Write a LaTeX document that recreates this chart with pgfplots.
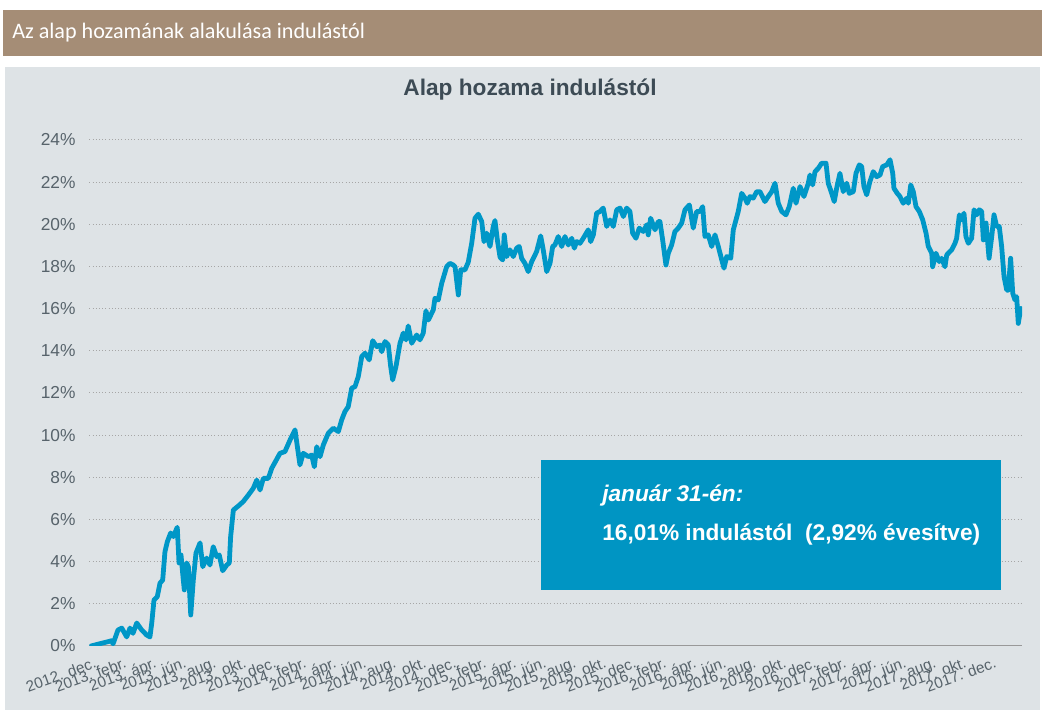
\documentclass[border=0pt]{standalone}
\usepackage{pgfplots}
\pgfplotsset{compat=1.18}
\usetikzlibrary{backgrounds}
\usepackage{fontspec}
\setmainfont{Liberation Sans}
\newfontfamily\hdrfont{Carlito}
\definecolor{hdr}{HTML}{A58D76}
\definecolor{panel}{HTML}{DEE3E6}
\definecolor{ttl}{HTML}{3D4B55}
\definecolor{tickc}{HTML}{57636B}
\definecolor{linec}{HTML}{0097C7}
\definecolor{boxc}{HTML}{0095C3}
\begin{document}
\begin{tikzpicture}
\begin{axis}[
  name=ax,
  scale only axis, width=699.4pt, height=379.5pt,
  xmin=-0.1, xmax=62.07, ymin=0, ymax=24,
  axis line style={draw=none},
  major tick length=0pt,
  ytick={0,2,...,24},
  yticklabel={\pgfmathprintnumber{\tick}\%},
  /pgf/number format/assume math mode=true,
  yticklabel style={font=\fontsize{13}{14}\selectfont, text=tickc, xshift=-7pt},
  ymajorgrids,
  grid style={dotted, line width=0.75pt, color=black!35},
  xtick={0,2,...,60},
  xticklabels={2012. dec.,2013. febr.,2013. ápr.,2013. jún.,2013. aug.,2013. okt.,2013. dec.,2014. febr.,2014. ápr.,2014. jún.,2014. aug.,2014. okt.,2014. dec.,2015. febr.,2015. ápr.,2015. jún.,2015. aug.,2015. okt.,2015. dec.,2016. febr.,2016. ápr.,2016. jún.,2016. aug.,2016. okt.,2016. dec.,2017. febr.,2017. ápr.,2017. jún.,2017. aug.,2017. okt.,2017. dec.},
  xticklabel style={rotate=20, anchor=north east, font=\fontsize{11.5}{13}\selectfont, text=tickc, inner sep=1pt, yshift=-7pt},
]
\draw[black!40, line width=0.9pt] (axis cs:-0.1,0) -- (axis cs:62.07,0);
\fill[boxc] (axis cs:30,2.66) rectangle (axis cs:60.67,8.82);
\node[anchor=west, text=white, inner sep=0pt, font=\bfseries\itshape\fontsize{17}{20}\selectfont] at (axis cs:34.07,7.16) {január 31-én:};
\node[anchor=west, text=white, inner sep=0pt, font=\bfseries\fontsize{17}{20}\selectfont] at (axis cs:34.07,5.27) {16,01\% indulástól\ \ (2,92\% évesítve)};
\addplot[color=linec, line width=3.6pt, line join=round, line cap=round, no marks] coordinates {
(0,0.00) (1.38,0.25) (1.47,0.10) (1.80,0.76) (2.05,0.85) (2.38,0.43) (2.60,0.85) (2.80,0.60)
(3.05,1.09) (3.38,0.76) (3.71,0.52) (3.93,0.43) (4.05,1.09) (4.20,2.18) (4.42,2.34) (4.60,2.98)
(4.78,3.13) (4.93,4.47) (5.09,4.95) (5.31,5.36) (5.49,5.19) (5.75,5.63) (5.87,3.94) (6.00,4.32)
(6.11,3.46) (6.22,2.66) (6.38,3.94) (6.49,3.76) (6.65,1.47) (6.82,3.13) (7.00,4.41) (7.27,4.89)
(7.45,3.76) (7.71,4.17) (7.93,3.84) (8.15,4.71) (8.38,4.24) (8.55,4.32) (8.78,3.57) (9.05,3.84)
(9.22,3.94) (9.31,5.19) (9.49,6.45) (9.82,6.64) (10.15,6.85) (10.49,7.16) (10.82,7.48) (11.05,7.87)
(11.27,7.40) (11.49,7.95) (11.82,7.95) (12.05,8.43) (12.60,9.14) (12.93,9.22) (13.27,9.77) (13.60,10.25)
(13.93,8.59) (14.15,9.14) (14.49,8.98) (14.71,9.06) (14.89,8.50) (15.05,9.45) (15.27,8.98) (15.49,9.54)
(15.82,10.09) (16.15,10.33) (16.49,10.17) (16.71,10.72) (16.93,11.12) (17.15,11.35) (17.38,12.23) (17.60,12.30)
(17.82,12.78) (18.05,13.73) (18.27,13.89) (18.55,13.57) (18.78,14.48) (19.05,14.20) (19.27,14.28) (19.38,13.96)
(19.60,14.44) (19.82,14.28) (19.98,13.25) (20.11,12.62) (20.33,13.25) (20.60,14.36) (20.82,14.84) (21.00,14.52)
(21.15,15.18) (21.38,14.36) (21.71,14.75) (21.93,14.52) (22.15,14.84) (22.33,15.90) (22.49,15.46) (22.82,15.94)
(22.93,16.49) (23.15,16.41) (23.38,17.20) (23.71,17.99) (23.93,18.15) (24.15,18.07) (24.27,17.99) (24.49,16.65)
(24.65,17.84) (24.93,17.84) (25.15,18.20) (25.38,19.10) (25.60,20.29) (25.82,20.48) (26.05,20.13) (26.20,19.18)
(26.38,19.58) (26.60,18.95) (26.82,19.90) (26.93,20.18) (27.09,19.26) (27.27,18.44) (27.45,18.31) (27.55,19.50)
(27.71,18.47) (27.93,18.79) (28.15,18.47) (28.38,18.87) (28.55,18.95) (28.71,18.39) (28.93,18.15) (29.15,17.76)
(29.38,18.23) (29.71,18.71) (29.98,19.45) (30.15,18.79) (30.38,17.76) (30.60,18.15) (30.78,18.95) (30.93,19.02)
(31.15,19.42) (31.38,18.95) (31.60,19.42) (31.82,19.02) (32.05,19.34) (32.22,18.87) (32.38,19.18) (32.60,19.10)
(32.82,19.34) (33.15,19.74) (33.31,19.18) (33.49,19.50) (33.71,20.53) (33.93,20.61) (34.15,20.77) (34.38,19.90)
(34.60,20.21) (34.82,19.90) (35.05,20.69) (35.27,20.77) (35.49,20.37) (35.71,20.77) (35.93,20.61) (36.11,19.58)
(36.33,19.34) (36.55,19.82) (36.82,19.66) (37.05,19.98) (37.15,19.50) (37.31,20.29) (37.60,19.74) (37.82,20.13)
(37.93,20.13) (38.11,19.26) (38.33,18.07) (38.49,18.63) (38.71,19.02) (38.93,19.66) (39.15,19.82) (39.38,20.06)
(39.60,20.69) (39.89,20.92) (40.15,19.82) (40.38,20.61) (40.60,20.61) (40.78,20.84) (40.93,19.42) (41.15,19.50)
(41.38,18.95) (41.60,19.50) (41.82,18.95) (42.05,18.31) (42.20,17.92) (42.38,18.47) (42.65,18.39) (42.82,19.74)
(43.00,20.21) (43.15,20.61) (43.38,21.47) (43.60,21.24) (43.75,21.00) (43.93,21.32) (44.15,21.24) (44.38,21.55)
(44.60,21.55) (44.93,21.08) (45.15,21.32) (45.38,21.55) (45.60,21.95) (45.82,21.00) (46.05,20.61) (46.33,20.45)
(46.55,20.84) (46.82,21.71) (47.00,21.00) (47.27,21.79) (47.53,21.32) (47.82,21.95) (47.93,22.34) (48.11,21.87)
(48.27,22.50) (48.49,22.66) (48.71,22.90) (49.00,22.90) (49.15,21.95) (49.38,21.47) (49.55,21.08) (49.71,21.71)
(49.93,22.42) (50.15,21.55) (50.38,21.95) (50.55,21.47) (50.82,21.55) (51.00,22.42) (51.22,22.82) (51.38,22.74)
(51.53,21.79) (51.71,21.40) (51.93,22.03) (52.15,22.50) (52.38,22.26) (52.60,22.34) (52.78,22.74) (53.05,22.82)
(53.27,23.06) (53.45,22.42) (53.53,21.71) (53.75,21.47) (53.93,21.32) (54.15,21.00) (54.38,21.24) (54.49,21.00)
(54.65,21.87) (54.82,21.55) (55.00,20.84) (55.22,20.61) (55.45,20.21) (55.67,19.58) (55.82,18.95) (56.05,18.63)
(56.11,17.99) (56.33,18.63) (56.55,18.23) (56.71,18.39) (56.93,17.99) (57.05,18.55) (57.38,18.79) (57.60,19.10)
(57.71,19.34) (57.89,20.45) (58.05,20.21) (58.20,20.53) (58.33,19.42) (58.49,19.10) (58.71,19.34) (58.87,20.69)
(59.05,20.45) (59.22,20.69) (59.38,20.61) (59.49,19.26) (59.67,20.06) (59.87,18.39) (60.05,19.42) (60.20,20.45)
(60.38,19.90) (60.55,19.90) (60.71,18.95) (60.87,17.52) (61.05,16.88) (61.15,16.88) (61.31,18.39) (61.45,16.73)
(61.60,16.41) (61.71,16.57) (61.82,15.30) (61.98,16.01)
};
\end{axis}
\pgfresetboundingbox
\begin{scope}[shift={(ax.origin)}, x=0.75pt, y=0.75pt, shift={(-91,-64)}]
\begin{pgfonlayer}{background}
\fill[white] (0,0) rectangle (1042,710);
\fill[hdr] (3,654) rectangle (1042,700);
\node[anchor=west, text=white, font=\hdrfont\fontsize{16.6}{18}\selectfont, inner sep=0pt] at (12,677) {Az alap hozamának alakulása indulástól};
\fill[panel] (5,0) rectangle (1040,643);
\node[font=\bfseries\fontsize{17}{19}\selectfont, text=ttl] at (530,620) {Alap hozama indulástól};
\end{pgfonlayer}
\path (0,0) rectangle (1042,710);
\end{scope}
\end{tikzpicture}
\end{document}
